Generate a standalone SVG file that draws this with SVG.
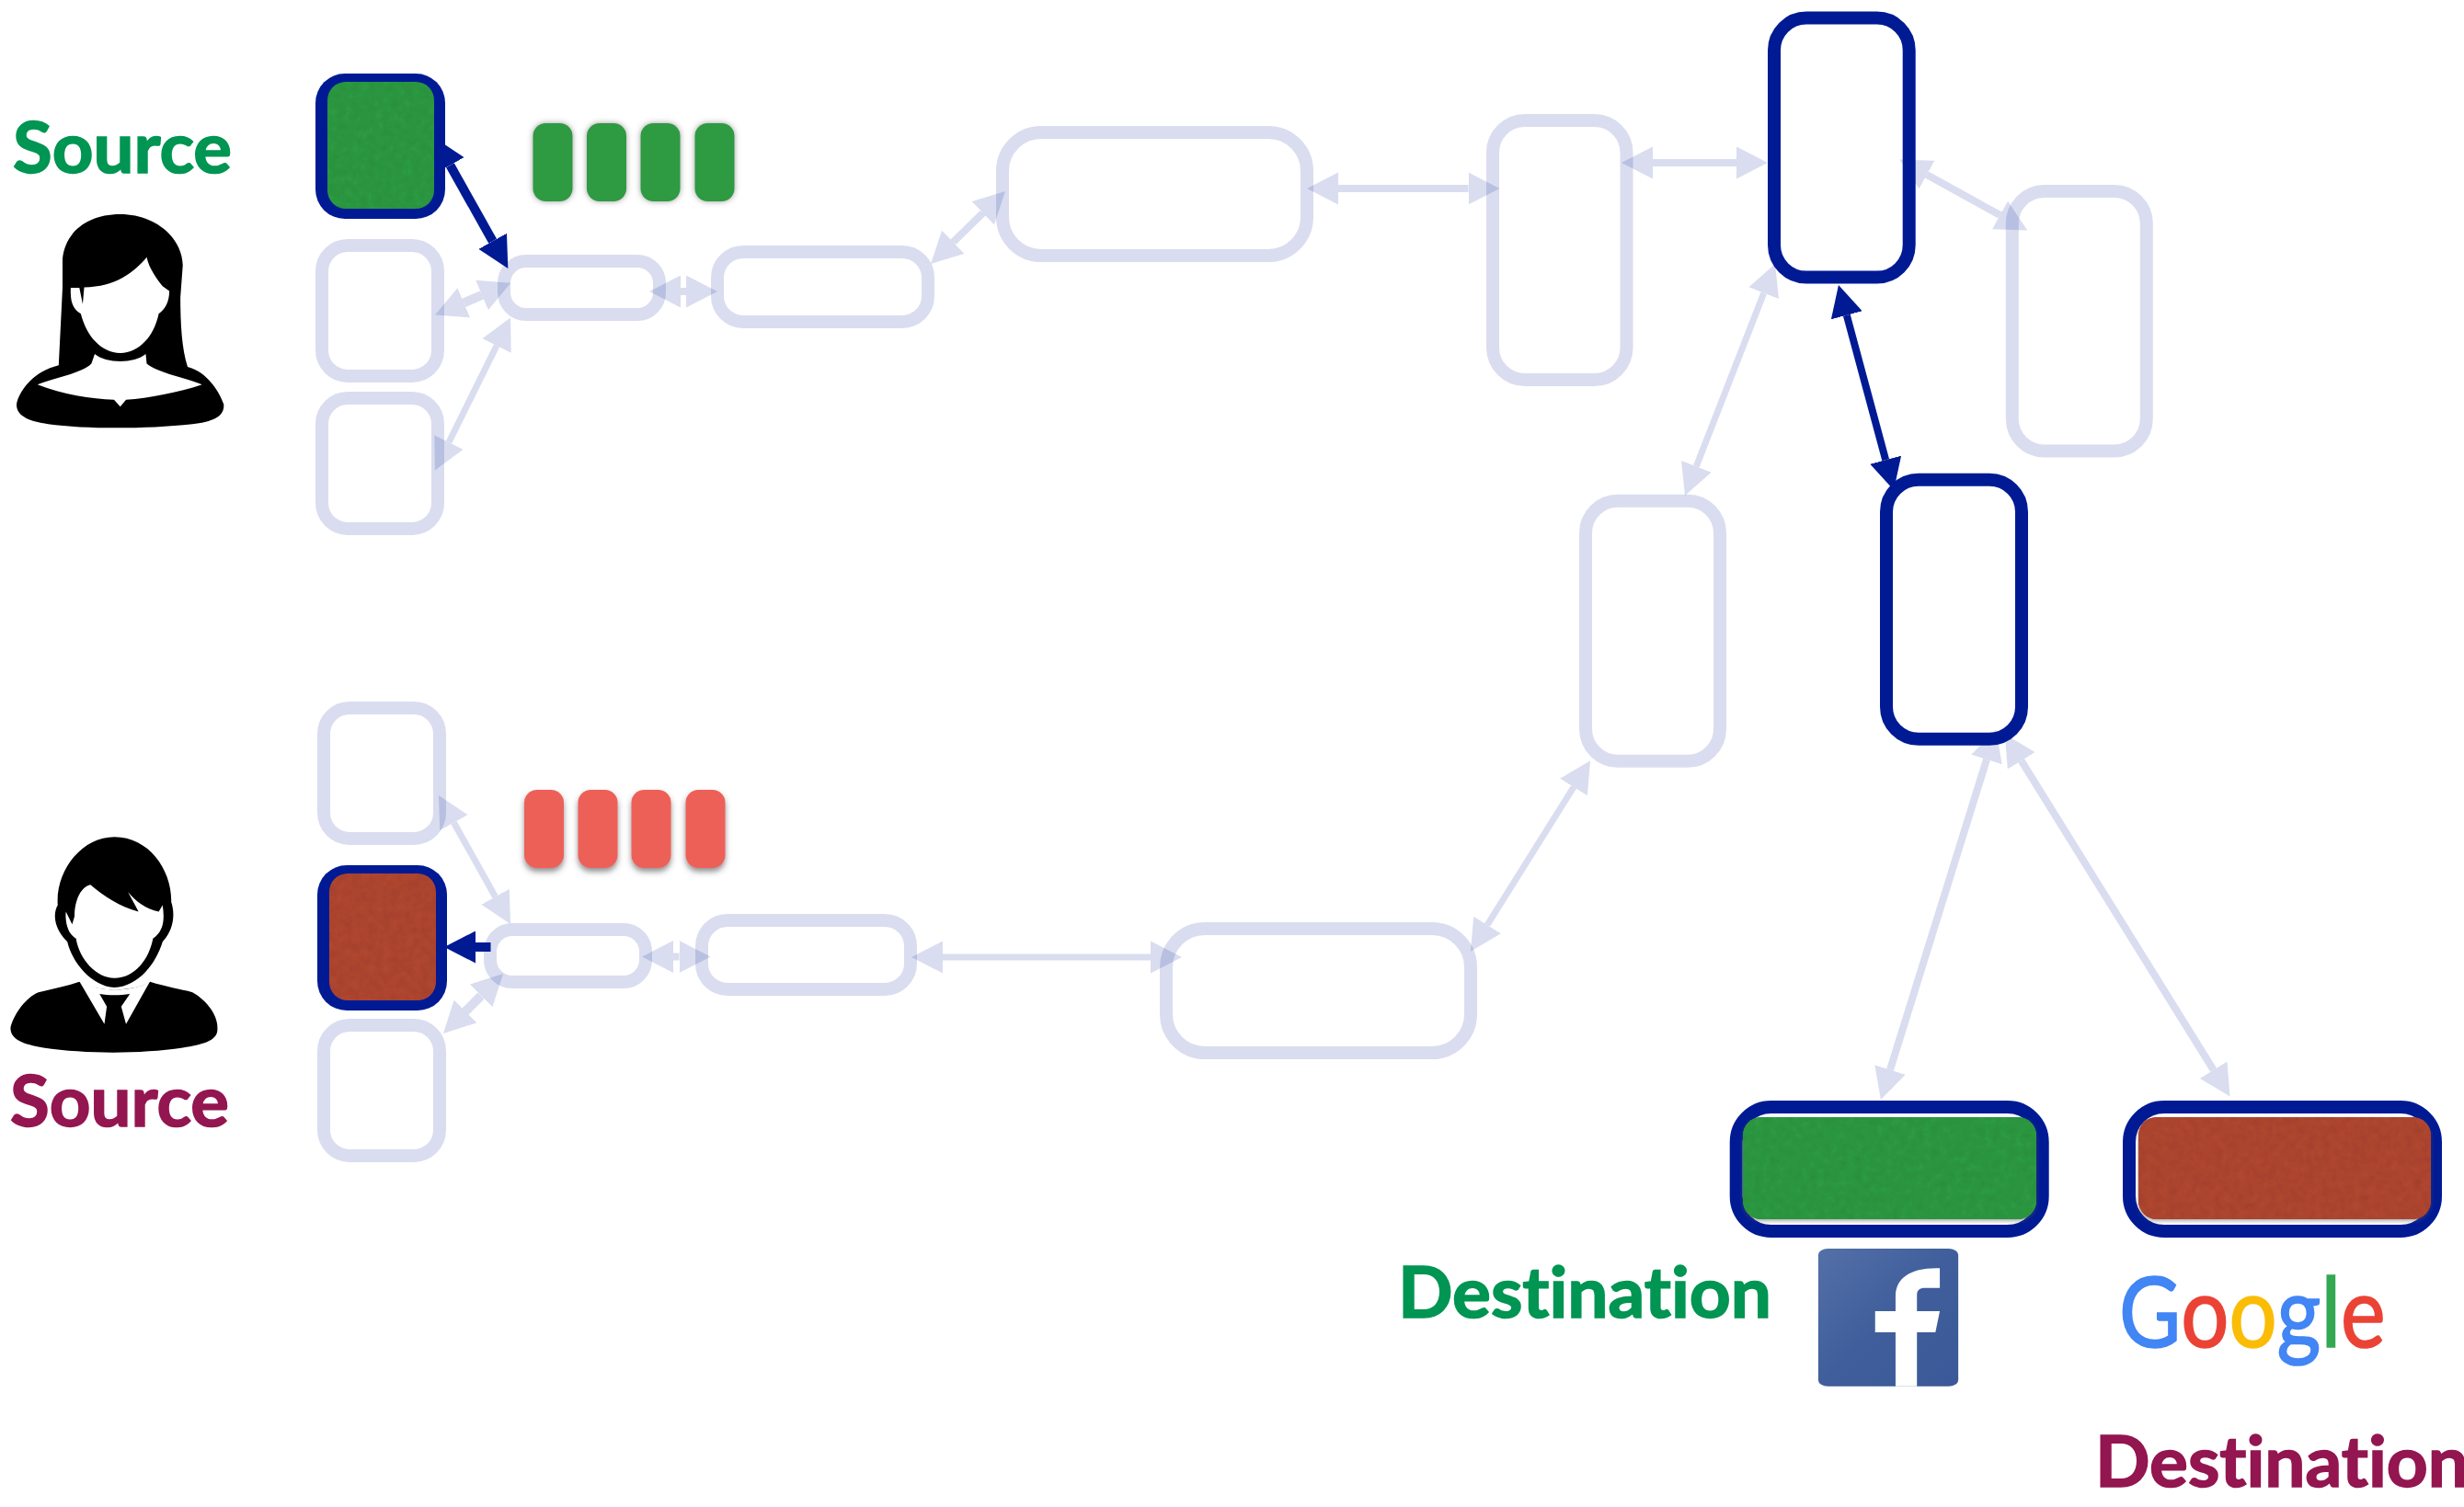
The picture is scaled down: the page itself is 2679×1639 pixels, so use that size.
<svg xmlns="http://www.w3.org/2000/svg" width="2679" height="1639" viewBox="0 0 2679 1639">
<style>
.ring{fill:none;stroke:#001a94;stroke-opacity:.15;stroke-width:14}
.hot{fill:none;stroke:#001a94;stroke-width:14}
.l10{stroke:#001a94;stroke-opacity:.15;stroke-width:10;fill:none;marker-start:url(#hl);marker-end:url(#hl)}
.l8{stroke:#001a94;stroke-opacity:.15;stroke-width:8;fill:none;marker-start:url(#hl);marker-end:url(#hl)}
.l7{stroke:#001a94;stroke-opacity:.15;stroke-width:7;fill:none;marker-start:url(#hl);marker-end:url(#hl)}
.b10{stroke:#001a94;stroke-width:10;fill:none;marker-start:url(#hb);marker-end:url(#hb)}
.b8{stroke:#001a94;stroke-width:8;fill:none;marker-start:url(#hb);marker-end:url(#hb)}
.lbl{font-family:Lato,"Liberation Sans",sans-serif;font-weight:700;font-size:76px;font-variant-ligatures:none;stroke-width:1.6}
.gr{fill:#009552;stroke:#009552}.rd{fill:#931650;stroke:#931650}
.g{fill:#2f9a42}.r{fill:#b04732}
.gc{fill:#2f9a42;filter:url(#gs)}.rc{fill:#ed6158;filter:url(#rs)}
</style>
<defs>
<marker id="hl" markerUnits="userSpaceOnUse" markerWidth="34" markerHeight="35" refX="0" refY="17.5" viewBox="0 0 34 35" orient="auto-start-reverse"><path d="M0 0L34 17.5L0 35Z" fill="#001a94" fill-opacity=".15"/></marker>
<marker id="hb" markerUnits="userSpaceOnUse" markerWidth="34" markerHeight="35" refX="0" refY="17.5" viewBox="0 0 34 35" orient="auto-start-reverse"><path d="M0 0L34 17.5L0 35Z" fill="#001a94"/></marker>
<filter id="paper" x="-5%" y="-5%" width="110%" height="110%"><feTurbulence type="fractalNoise" baseFrequency=".12" numOctaves="3" seed="4" result="n"/><feColorMatrix in="n" type="matrix" values="0 0 0 0 0 0 0 0 0 0 0 0 0 0 0 0 0 0 .25 -.07" result="d"/><feComposite in="d" in2="SourceAlpha" operator="in" result="t"/><feMerge><feMergeNode in="SourceGraphic"/><feMergeNode in="t"/></feMerge></filter>
<filter id="gs" x="-30%" y="-20%" width="160%" height="140%"><feDropShadow dx="0" dy="0" stdDeviation="3" flood-color="#555" flood-opacity=".6"/></filter>
<filter id="rs" x="-30%" y="-20%" width="160%" height="140%"><feDropShadow dx="0" dy="4" stdDeviation="3" flood-color="#444" flood-opacity=".6"/></filter>
<filter id="ds" x="-5%" y="-10%" width="110%" height="120%"><feDropShadow dx="0" dy="2" stdDeviation="2" flood-color="#555" flood-opacity=".5"/></filter>
<linearGradient id="fb" x1="0" y1="0" x2="1" y2="1"><stop offset="0" stop-color="#5470a8"/><stop offset=".5" stop-color="#3f5e9b"/><stop offset="1" stop-color="#3b5998"/></linearGradient>
</defs>

<g id="connectors">
<line class="b10" x1="489.400" y1="179.700" x2="535.700" y2="262.300"/>
<line class="l10" x1="504.300" y1="329.300" x2="524" y2="321"/>
<line class="l7" x1="488" y1="481" x2="540" y2="376"/>
<line class="l8" x1="740" y1="317" x2="746" y2="317"/>
<line class="l8" x1="1036.300" y1="263.300" x2="1068.700" y2="231.700"/>
<line class="l8" x1="1455" y1="205" x2="1596.500" y2="205"/>
<line class="l8" x1="1797" y1="177" x2="1888" y2="177"/>
<line class="l8" x1="2095" y1="190" x2="2174.500" y2="234"/>
<line class="b8" x1="2007.800" y1="342.800" x2="2050.200" y2="500.200"/>
<line class="l7" x1="1917.700" y1="318.700" x2="1844.300" y2="507.300"/>
<line stroke="#001a94" stroke-width="10" marker-start="url(#hb)" x1="517" y1="1030" x2="533.500" y2="1030"/>
<line class="l7" x1="493.500" y1="894.700" x2="538.500" y2="975.300"/>
<line class="l10" x1="506" y1="1100" x2="523" y2="1083"/>
<line class="l8" x1="732" y1="1040.500" x2="738.500" y2="1040.500"/>
<line class="l7" x1="1025" y1="1041" x2="1251" y2="1041"/>
<line class="l7" x1="1617" y1="1006" x2="1711" y2="856"/>
<line class="l8" x1="2160" y1="826" x2="2055" y2="1163.500"/>
<line class="l8" x1="2197.700" y1="827.300" x2="2406.600" y2="1163.700"/>
</g>

<g id="src-green-node"><rect x="343" y="80" width="141" height="158" rx="32" fill="#001a94"/><rect class="g" x="356" y="89" width="116" height="138" rx="20" filter="url(#paper)"/></g>
<g id="n-a2"><rect class="ring" x="350" y="267" width="126" height="142" rx="28"/></g>
<g id="n-a3"><rect class="ring" x="350" y="433" width="126" height="142" rx="28"/></g>
<g id="n-a4"><rect class="ring" x="548" y="284" width="169" height="58" rx="24"/></g>
<g id="n-a5"><rect class="ring" x="780" y="274" width="229" height="76" rx="28"/></g>
<g id="n-a6"><rect class="ring" x="1090" y="144" width="331" height="134" rx="42"/></g>
<g id="n-a7"><rect class="ring" x="1623" y="131" width="145.500" height="282" rx="35"/></g>
<g id="n-top"><rect class="hot" x="1929" y="19.600" width="146.700" height="282" rx="35"/></g>
<g id="n-right"><rect class="ring" x="2187.800" y="208" width="146" height="282.500" rx="35"/></g>
<g id="n-blue2"><rect class="hot" x="2051" y="521.700" width="147" height="282" rx="35"/></g>
<g id="n-mid"><rect class="ring" x="1724" y="544.700" width="146" height="283" rx="35"/></g>

<g id="n-b1"><rect class="ring" x="352" y="770" width="126" height="142" rx="28"/></g>
<g id="src-red-node"><rect x="345" y="941" width="141" height="158" rx="32" fill="#001a94"/><rect class="r" x="358" y="950" width="116" height="138" rx="20" filter="url(#paper)"/></g>
<g id="n-b3"><rect class="ring" x="352" y="1115" width="126" height="142" rx="28"/></g>
<g id="n-b4"><rect class="ring" x="533" y="1011" width="169" height="57" rx="24"/></g>
<g id="n-b5"><rect class="ring" x="763" y="1001" width="227" height="75" rx="28"/></g>
<g id="n-b6"><rect class="ring" x="1268" y="1010" width="331" height="135" rx="42"/></g>

<g id="chips-green">
<rect class="gc" x="579.500" y="134" width="43" height="85" rx="14"/>
<rect class="gc" x="638" y="134" width="43" height="85" rx="14"/>
<rect class="gc" x="696.500" y="134" width="43" height="85" rx="14"/>
<rect class="gc" x="755.500" y="134" width="43" height="85" rx="14"/>
</g>
<g id="chips-red">
<rect class="rc" x="570" y="859" width="43" height="85" rx="14"/>
<rect class="rc" x="628.500" y="859" width="43" height="85" rx="14"/>
<rect class="rc" x="686.500" y="859" width="43" height="85" rx="14"/>
<rect class="rc" x="745.500" y="859" width="43" height="85" rx="14"/>
</g>

<g id="dest-green"><rect class="hot" x="1887.700" y="1204" width="333" height="135" rx="38"/><rect class="g" x="1895" y="1215" width="319" height="111" rx="20" filter="url(#ds)"/><rect class="g" x="1895" y="1215" width="319" height="111" rx="20" filter="url(#paper)"/></g>
<g id="dest-red"><rect class="hot" x="2315" y="1204" width="333" height="135" rx="38"/><rect class="r" x="2325" y="1215" width="318" height="111" rx="20" filter="url(#ds)"/><rect class="r" x="2325" y="1215" width="318" height="111" rx="20" filter="url(#paper)"/></g>

<g id="woman" transform="translate(0,50) scale(.523,.3508)">
<path fill="#000" d="M122 990L130 750L130 660C135 580 180 522 250 522C320 522 378 590 380 680L375 780C375 860 378 940 390 995C430 1010 455 1070 465 1110C468 1150 440 1165 400 1172C300 1188 180 1188 100 1172C60 1165 30 1145 35 1105C45 1060 70 1010 122 990Z"/>
<path fill="#fff" d="M78 1050C110 1030 170 1015 190 985L197 955C220 985 280 985 303 955L305 985C330 1015 390 1030 420 1050C370 1075 310 1092 262 1097L250 1118L237 1097C190 1095 130 1080 78 1050Z"/>
<path fill="#fff" d="M175 748C240 748 280 700 305 655C310 690 325 720 338 745L352 760C352 790 345 815 330 830C320 900 290 950 250 952C210 950 180 900 168 830C150 815 146 790 147 750L165 750L172 800Z"/>
</g>
<g id="man" transform="translate(0,740) scale(.523,.3444)">
<path fill="#000" d="M120 710C115 600 170 494 238 494C310 494 358 600 356 700C365 740 360 790 338 825C325 890 290 965 238 970C190 965 150 890 140 825C115 790 108 740 120 710Z"/>
<path fill="#000" d="M165 952C195 985 280 985 312 952C345 968 375 975 400 985C430 1010 455 1060 452 1105C450 1140 420 1150 380 1160C290 1180 180 1180 90 1160C50 1150 20 1135 22 1095C30 1050 55 1000 80 985C110 975 140 965 165 952Z"/>
<path fill="#fff" d="M165 950C200 985 280 985 312 950L262 1085L252 1030L270 990C250 995 225 995 207 990L222 1030L217 1085Z"/>
<path fill="#fff" d="M155 745C155 690 170 650 188 645C215 680 250 715 288 730L266 668C280 695 305 725 330 730L338 710C342 750 342 790 318 815C310 880 280 940 238 940C200 940 165 880 158 815C140 800 135 760 137 730L150 770Z"/>
</g>
<g id="facebook" transform="translate(1850,1170) scale(.5287,.3333)">
<rect x="240" y="564" width="288" height="449" rx="20" fill="url(#fb)"/>
<path fill="#fff" d="M399 1013V837H357V768H399V720C399 660 430 625 490 628V692H460C448 692 443 700 443 715V768H490L481 837H443V1013Z"/>
</g>

<text class="lbl gr" x="14" y="188" textLength="238" lengthAdjust="spacingAndGlyphs">Source</text>
<text class="lbl rd" x="11" y="1225" textLength="238" lengthAdjust="spacingAndGlyphs">Source</text>
<text class="lbl gr" x="1520" y="1433" textLength="406" lengthAdjust="spacingAndGlyphs">Destination</text>
<text class="lbl rd" x="2278" y="1617" textLength="406" lengthAdjust="spacingAndGlyphs">Destination</text>
<text id="google" transform="translate(2304,1465) scale(1,1.16)" font-family="Lato,'Liberation Sans',sans-serif" font-size="92" stroke-width="1.500"><tspan fill="#4285f4" stroke="#4285f4">G</tspan><tspan fill="#ea4335" stroke="#ea4335">o</tspan><tspan fill="#fbbc05" stroke="#fbbc05">o</tspan><tspan fill="#4285f4" stroke="#4285f4">g</tspan><tspan fill="#34a853" stroke="#34a853">l</tspan><tspan fill="#ea4335" stroke="#ea4335">e</tspan></text>
</svg>
